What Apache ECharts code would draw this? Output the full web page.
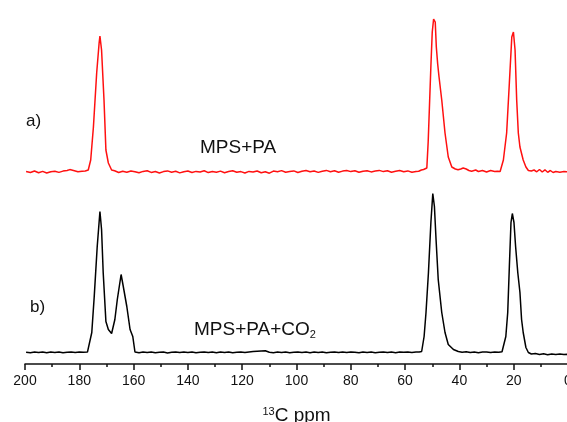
<!DOCTYPE html>
<html>
<head>
<meta charset="utf-8">
<script src="https://cdn.jsdelivr.net/npm/echarts@6/dist/echarts.min.js"></script>
<style>
html, body { margin: 0; padding: 0; background: #fff; }
#map { width: 567px; height: 422px; }
</style>
</head>
<body>
<div id="map"></div>
<script>
// spectrum a) MPS+PA : [ppm, intensity above its own baseline]
var spectrumA = [
	[199.6, 0.5], [198, -0.5], [196.5, 1], [195, -0.8], [193.5, 0.6], [192, -1], [190.5, 0.3], [189, 0.8],
	[187.5, -0.4], [186, 0.9], [184.5, 1.5], [183.5, 2.4], [182.8, 3], [181.8, 1.2], [180.5, 0.2], [179, 0.8],
	[177.8, 1], [176.7, 2], [175.8, 12], [174.8, 45], [173.6, 99], [172.7, 129], [172.4, 136], [171.8, 122],
	[170.9, 72], [170.2, 22], [169.3, 9], [168.1, 2], [167, 1.2], [165.5, -0.5], [164, 0.8], [162.5, -0.3],
	[161, 1], [159.5, 0.2], [158, -0.8], [156.5, 0.6], [155, 1.3], [153.5, -0.4], [152, 0.5], [150.5, -1],
	[149, 0.4], [147.5, 1.1], [146, -0.2], [144.5, 0.7], [143, -0.9], [141.5, 0.3], [140, 1], [138.5, -0.5],
	[137, 0.6], [135.5, 0], [134, 1.2], [132.5, -0.6], [131, 0.4], [129.5, -0.2], [128, 0.9], [126.5, -0.7],
	[125, 0.5], [123.5, 1.3], [122, -0.3], [120.5, 0.4], [119, -1], [117.5, 0.6], [116, 0.1], [114.5, 1],
	[113, -0.8], [111.5, 0.2], [110, -1.2], [108.5, 0.9], [107, 0.3], [105.5, 1.4], [104, -0.2], [102.5, 0.6],
	[101, 1.1], [99.5, -0.5], [98, 0.7], [96.5, 1.5], [95, 0.2], [93.5, 1], [92, -0.4], [90.5, 0.8],
	[89, 1.6], [87.5, 0.3], [86, 1.2], [84.5, -0.2], [83, 0.9], [81.5, 1.5], [80, 0.4], [78.5, 1.3],
	[77, -0.3], [75.5, 0.7], [74, 1.2], [72.5, 0.1], [71, 0.9], [69.5, 1.6], [68, 0.4], [66.5, 1.2],
	[65, -0.2], [63.5, 0.8], [62, 1.5], [60.5, 0.3], [59, 1.1], [57.5, -0.3], [56, 0.6], [55, 0.8],
	[54, 2], [53.2, 2.5], [52.5, 2.2], [52.0, 4], [51.5, 30], [51.0, 68], [50.5, 106], [50.0, 140],
	[49.5, 153], [49.2, 155], [48.9, 150], [48.5, 125], [48.0, 108], [47.5, 95], [46.5, 72], [45.3, 39],
	[44.1, 15], [42.8, 5], [41.5, 3], [40.5, 2.2], [39.5, 3], [38.6, 4], [37.5, 3], [36.5, 1.5],
	[35.5, 0.8], [34, 2], [33, 0.5], [31.5, 1.5], [30, 0], [28.5, 1.5], [27, 0.5], [26, 0.8],
	[25.0, 0.5], [23.8, 12], [22.6, 39], [21.6, 89], [20.7, 135], [20.1, 140], [19.5, 122], [18.9, 72],
	[18.3, 39], [17.7, 25], [16.5, 12], [15.5, 5], [14.6, 1.5], [13.5, 1], [12.5, 2], [11.5, 0.2],
	[10.5, 2.5], [9.5, 0], [8.5, 2.2], [7.5, -0.3], [6.5, 1.5], [5.5, -0.5], [4.5, 0.5], [3, -0.2],
	[1.5, 0.4], [0, 0.2]
];

// spectrum b) MPS+PA+CO2
var spectrumB = [
	[199.6, 0.3], [198, -0.2], [196.5, 0.5], [195, 0], [193.5, 0.6], [192, -0.3], [190.5, 0.4], [189, 0.1],
	[187.5, 0.6], [186, -0.2], [184.5, 0.3], [183, 0.5], [181.5, 0], [180, 0.6], [178.5, 0.2], [177, 0.4],
	[176.3, 0.5], [175.4, 20], [174.5, 56], [173.4, 106], [172.4, 141], [171.8, 123], [171.2, 80], [170.2, 31],
	[169.3, 23], [168.1, 19], [166.9, 33], [166.0, 53], [164.6, 78], [163.8, 66], [162.5, 46], [161.3, 23],
	[160.3, 16], [159.5, 0.5], [158, -0.3], [156.5, 0.4], [155, 0], [153.5, 0.6], [152, -0.2], [150.5, 0.3],
	[149, 0.5], [147.5, -0.4], [146, 0.2], [144.5, 0.6], [143, -0.1], [141.5, 0.4], [140, 0], [138.5, 0.5],
	[137, -0.3], [135.5, 0.3], [134, 0.6], [132.5, 0], [131, 0.4], [129.5, -0.2], [128, 0.5], [126.5, 0.1],
	[125, 0.6], [123.5, -0.2], [122, 0.3], [120.5, 0.6], [119, 0], [117.5, 0.5], [116, 0.9], [114.5, 1.2],
	[113, 1.5], [111.5, 1.7], [110.8, 1.3], [110, 0.2], [108.5, -0.2], [107, 0.4], [105.5, 0], [104, 0.5],
	[102.5, -0.3], [101, 0.3], [99.5, 0.6], [98, 0], [96.5, 0.4], [95, -0.2], [93.5, 0.5], [92, 0.1],
	[90.5, 0.6], [89, -0.2], [87.5, 0.3], [86, 0.5], [84.5, -0.1], [83, 0.4], [81.5, 0], [80, 0.6],
	[78.5, 0.2], [77, -0.3], [75.5, 0.4], [74, 0.1], [72.5, 0.5], [71, -0.2], [69.5, 0.3], [68, 0.6],
	[66.5, 0], [65, 0.4], [63.5, -0.2], [62, 0.5], [60.5, 0.2], [59, 0.6], [57.5, 0], [56, 0.4],
	[54.8, 0.5], [53.9, 1], [53.0, 16], [52.3, 40], [51.4, 80], [50.5, 130], [49.8, 159], [49.2, 146],
	[48.6, 113], [47.8, 73], [46.5, 40], [45.3, 20], [44.1, 8], [42.2, 3], [40.4, 1], [39, 0.3],
	[37.5, 0.8], [36, 0], [34.5, 0.5], [33, -0.2], [31.5, 0.4], [30, 0.6], [28.5, 0], [27, 0.5],
	[25.5, 0.2], [24.3, 0.8], [23.6, 1.5], [22.9, 16], [22.2, 40], [21.6, 86], [21.0, 130], [20.5, 139],
	[19.9, 130], [19.3, 106], [18.5, 80], [17.7, 60], [17.1, 33], [16.5, 20], [15.5, 5], [14.6, 0],
	[13.5, -1.5], [12, -1], [10.5, -2], [9, -1.3], [7.5, -2.2], [6, -1.5], [4.5, -2], [3, -1.6],
	[1.5, -2.1], [0, -1.8]
];

// vertical offsets of the two traces (stacked plot)
var offsetA = 192,
	offsetB = 11.5;

function shift(data, off) {
	var out = [];
	for (var i = 0; i < data.length; i++) {
		out.push([data[i][0], data[i][1] + off]);
	}
	return out;
}

var font = 'Liberation Sans, Arial, sans-serif';
var myChart = echarts.init(document.getElementById('map'));

var option = {
	backgroundColor: '#fff',
	animation: false,
	grid: {
		left: 25,
		top: 4,
		width: 543,
		height: 360,
		outerBoundsMode: 'none',
		containLabel: false
	},
	xAxis: {
		type: 'value',
		min: 0,
		max: 200,
		interval: 20,
		inverse: true,
		name: '{sup|13}{n|C ppm}',
		nameLocation: 'middle',
		nameGap: 42,
		nameTextStyle: {
			rich: {
				sup: { fontSize: 11, fontFamily: font, color: '#111', verticalAlign: 'top', padding: [0, 0, 8, 0] },
				n: { fontSize: 19, fontFamily: font, color: '#111' }
			}
		},
		axisLine: { lineStyle: { color: '#111', width: 1.5 } },
		axisTick: { inside: false, length: 6, lineStyle: { color: '#111', width: 1.5 } },
		minorTick: { show: true, splitNumber: 2, length: 3, lineStyle: { color: '#111', width: 1.5 } },
		splitLine: { show: false },
		axisLabel: { fontSize: 14, fontFamily: font, color: '#111', margin: 10 }
	},
	yAxis: {
		type: 'value',
		min: 0,
		max: 360,
		show: false
	},
	series: [{
			name: 'MPS+PA',
			type: 'line',
			showSymbol: false,
			data: shift(spectrumA, offsetA),
			lineStyle: { color: '#ff1010', width: 1.5 }
		},
		{
			name: 'MPS+PA+CO2',
			type: 'line',
			showSymbol: false,
			data: shift(spectrumB, offsetB),
			lineStyle: { color: '#000', width: 1.5 }
		}
	],
	graphic: [{
			type: 'text', left: 26, top: 113,
			style: { text: 'a)', font: '17px ' + font, fill: '#111' }
		},
		{
			type: 'text', left: 30, top: 299,
			style: { text: 'b)', font: '17px ' + font, fill: '#111' }
		},
		{
			type: 'text', left: 200, top: 138,
			style: { text: 'MPS+PA', font: '19px ' + font, fill: '#111' }
		},
		{
			type: 'text', left: 194, top: 320,
			style: {
				text: '{n|MPS+PA+CO}{sub|2}',
				rich: {
					n: { fontSize: 19, fontFamily: font, fill: '#111' },
					sub: { fontSize: 11, fontFamily: font, fill: '#111', padding: [10, 0, 0, 0] }
				}
			}
		}
	]
};

myChart.setOption(option);
</script>
</body>
</html>
